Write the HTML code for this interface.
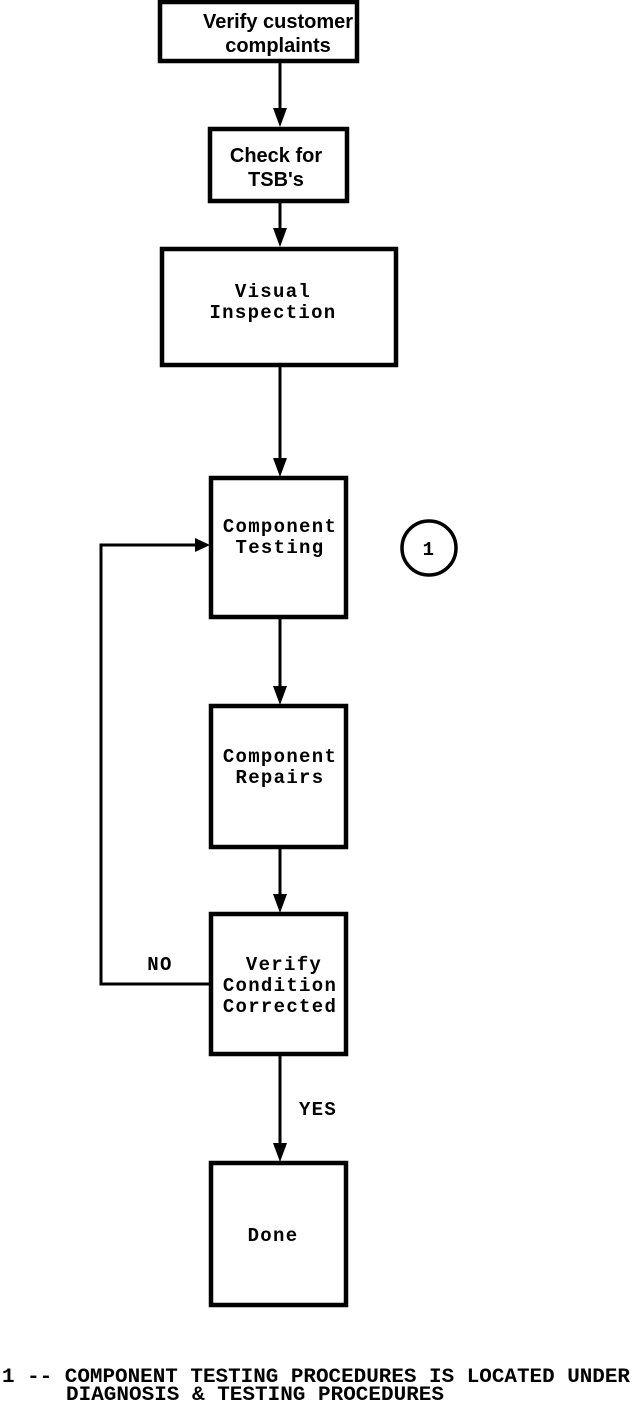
<!DOCTYPE html>
<html><head><meta charset="utf-8"><style>
html,body{margin:0;padding:0;background:#fff;}
svg{display:block;}
.s{font-family:"Liberation Sans",sans-serif;font-weight:bold;font-size:20px;}
.m{font-family:"Liberation Mono",monospace;font-weight:bold;font-size:19px;letter-spacing:1.3px;}
.f{font-family:"Liberation Mono",monospace;font-weight:bold;font-size:20px;}
</style></head><body>
<svg width="640" height="1404" viewBox="0 0 640 1404" xmlns="http://www.w3.org/2000/svg">
<g fill="none" stroke="#000" stroke-width="4.5">
<rect x="160" y="2" width="197" height="59"/>
<rect x="210" y="129" width="137" height="72"/>
<rect x="162" y="249" width="234" height="116"/>
<rect x="211" y="478" width="135" height="139"/>
<rect x="211" y="706" width="135" height="141"/>
<rect x="211" y="914" width="135" height="140"/>
<rect x="211" y="1163" width="135" height="142"/>
<circle cx="429" cy="548" r="27" stroke-width="3.5"/>
</g>
<g stroke="#000" stroke-width="3">
<line x1="280" y1="62" x2="280" y2="110"/>
<line x1="280" y1="202" x2="280" y2="230"/>
<line x1="280" y1="366" x2="280" y2="460"/>
<line x1="280" y1="618" x2="280" y2="688"/>
<line x1="280" y1="848" x2="280" y2="896"/>
<line x1="280" y1="1055" x2="280" y2="1144"/>
<polyline fill="none" points="210,984 101,984 101,545 196,545"/>
</g>
<g fill="#000">
<polygon points="273,108 287,108 280,127"/>
<polygon points="273,228 287,228 280,247"/>
<polygon points="273,458 287,458 280,477"/>
<polygon points="273,686 287,686 280,705"/>
<polygon points="273,894 287,894 280,913"/>
<polygon points="273,1143 287,1143 280,1162"/>
<polygon points="195,538 195,552 210,545"/>
</g>
<g text-anchor="middle" fill="#000">
<text class="s" x="278" y="28">Verify customer</text>
<text class="s" x="278" y="52">complaints</text>
<text class="s" x="276" y="162">Check for</text>
<text class="s" x="276" y="186">TSB's</text>
<text class="m" x="273" y="297">Visual</text>
<text class="m" x="273" y="318">Inspection</text>
<text class="m" x="280" y="532">Component</text>
<text class="m" x="280" y="553">Testing</text>
<text class="m" x="280" y="762">Component</text>
<text class="m" x="280" y="783">Repairs</text>
<text class="m" x="284" y="970">Verify</text>
<text class="m" x="280" y="991">Condition</text>
<text class="m" x="280" y="1012">Corrected</text>
<text class="m" x="273" y="1241">Done</text>
<text class="m" x="160" y="970">NO</text>
<text class="m" x="318" y="1115">YES</text>
<text class="m" x="429" y="555" font-size="16">1</text>
</g>
<text class="f" x="2" y="1382" textLength="628" lengthAdjust="spacingAndGlyphs">1 -- COMPONENT TESTING PROCEDURES IS LOCATED UNDER</text>
<text class="f" x="66" y="1400" textLength="378" lengthAdjust="spacingAndGlyphs">DIAGNOSIS &amp; TESTING PROCEDURES</text>
</svg>
</body></html>
